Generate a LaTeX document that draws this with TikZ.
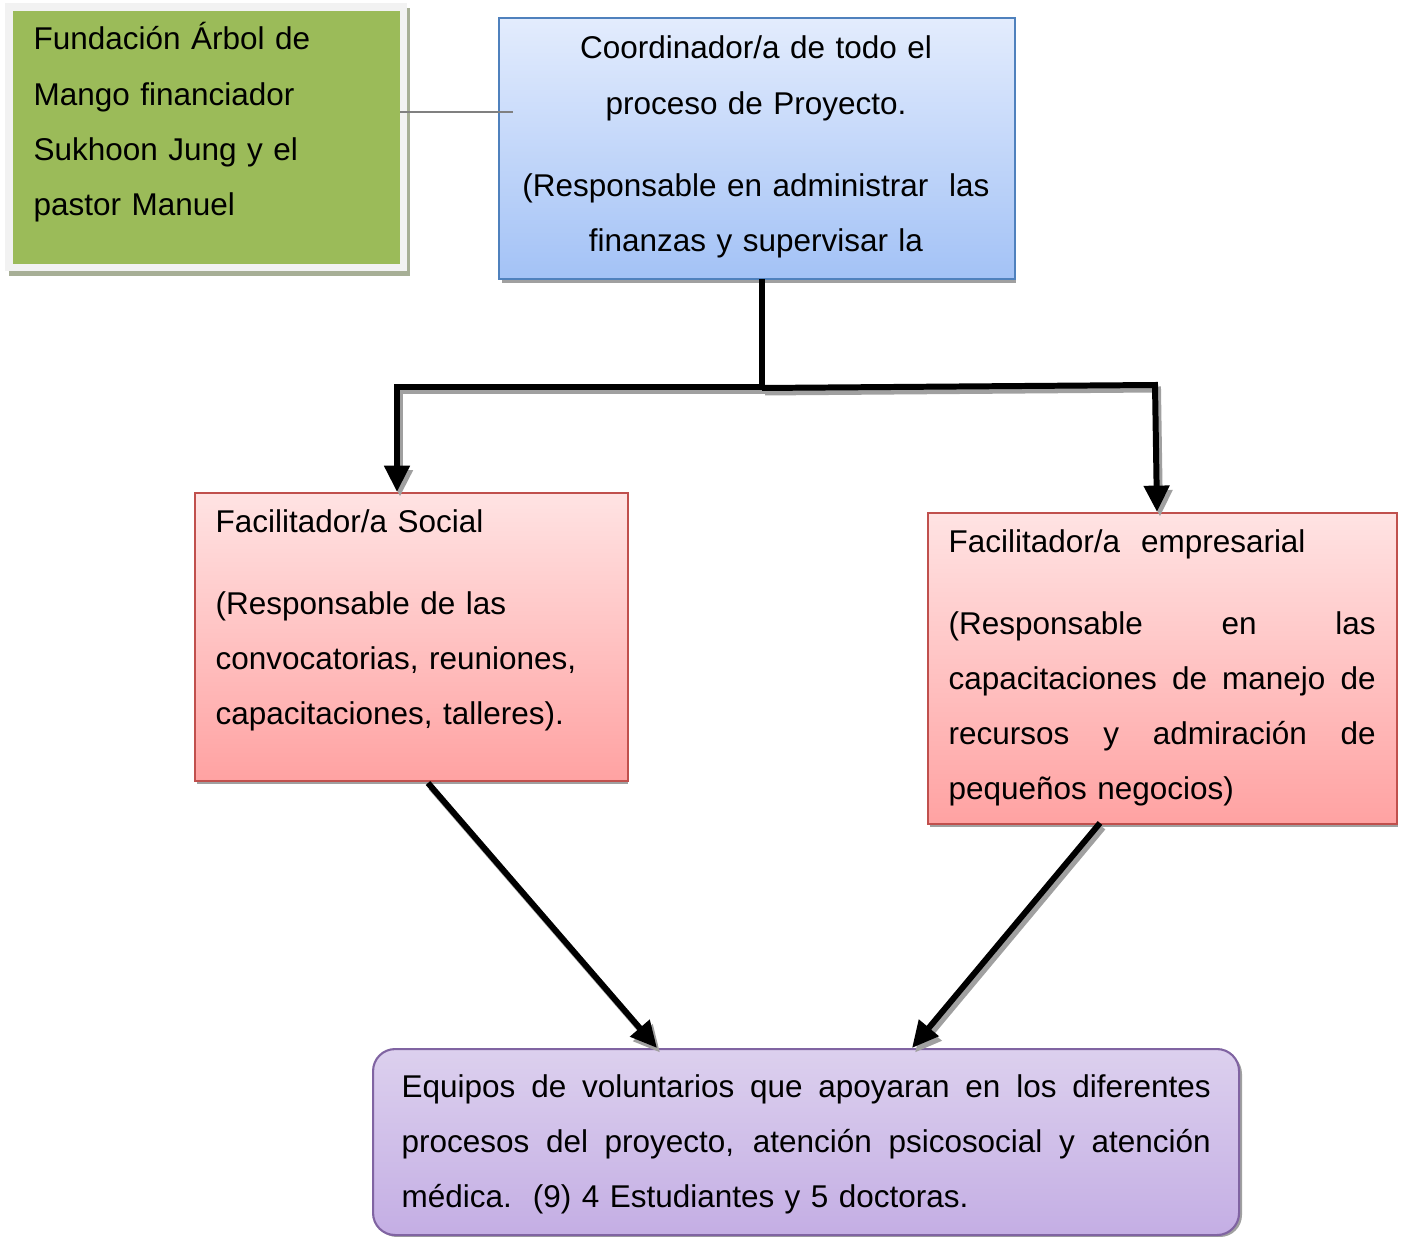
\documentclass[tikz,border=0pt]{standalone}
\usepackage{fontspec}
\setmainfont{Liberation Sans}
\usetikzlibrary{arrows.meta}
\definecolor{gfill}{HTML}{9BBB59}
\definecolor{gframe}{HTML}{F2F2F2}
\definecolor{gshadow}{HTML}{A7AF96}
\definecolor{bline}{HTML}{4F81BD}
\definecolor{btop}{HTML}{E3ECFD}
\definecolor{bbot}{HTML}{A3C2F6}
\definecolor{rline}{HTML}{C0504D}
\definecolor{rtop}{HTML}{FFE3E3}
\definecolor{rbot}{HTML}{FFA2A2}
\definecolor{pline}{HTML}{8064A2}
\definecolor{ptop}{HTML}{DCD0EE}
\definecolor{pbot}{HTML}{C4AEE4}
\definecolor{shad}{HTML}{A0A0A0}
\newcommand\jline[1]{\leavevmode\hbox to\linewidth{\spaceskip=0.278em plus 1fil\relax #1}}
\tikzset{
  txt/.style={font=\fontsize{8.95pt}{15.65pt}\selectfont, inner sep=0pt, anchor=base west, align=left},
  conn/.style={line width=1.7pt, -{Triangle[width=7pt,length=7.5pt]}},
  connshadow/.style={line width=1.7pt, draw=shad, -{Triangle[width=7pt,length=7.5pt]}},
}
\begin{document}
\begin{tikzpicture}[x=0.01cm,y=-0.01cm]
\useasboundingbox (0,0) rectangle (1403,1237);
% ---- green box
\fill[gshadow] (9,8) rectangle (410,276);
\fill[gframe] (5,3) rectangle (407,271);
\node[fill=gfill, minimum width=387*0.01cm, minimum height=253*0.01cm, inner sep=0pt, anchor=north west] (green) at (12,10) {};
\node[txt, text width=360*0.01cm] (greentxt) at (33,50) {Fundación Árbol de\\Mango financiador\\Sukhoon Jung y el\\pastor Manuel};
% ---- blue box
\fill[shad] (502,22) rectangle (1016,283);
\node[draw=bline, line width=0.6pt, top color=btop, bottom color=bbot, minimum width=516*0.01cm, minimum height=261*0.01cm, inner sep=0pt, anchor=north west] (coord) at (498,17) {};
\node[txt, text width=516*0.01cm, align=center, anchor=base] (coordtxt) at (756,59) {Coordinador/a de todo el\\proceso de Proyecto.\\[0.27cm](Responsable en administrar\ \ las\\finanzas y supervisar la};
\coordinate (gconn) at (513,112);
\draw[draw=gray, line width=0.5pt] (green.east |- gconn) -- (gconn);
% ---- social box
\fill[shad] (197,496) rectangle (628,784);
\node[draw=rline, line width=0.6pt, top color=rtop, bottom color=rbot, minimum width=433*0.01cm, minimum height=288*0.01cm, inner sep=0pt, anchor=north west] (social) at (194,492) {};
\node[txt, text width=400*0.01cm] (socialtxt) at (215,533) {Facilitador/a Social\\[0.26cm](Responsable de las\\convocatorias, reuniones,\\capacitaciones, talleres).};
% ---- empresarial box
\fill[shad] (930,516) rectangle (1398,827);
\node[draw=rline, line width=0.6pt, top color=rtop, bottom color=rbot, minimum width=469*0.01cm, minimum height=311*0.01cm, inner sep=0pt, anchor=north west] (empr) at (927,512) {};
\node[txt, text width=427*0.01cm] (emprtxt) at (948,553) {Facilitador/a\ \ empresarial\\[0.26cm]\jline{(Responsable en las}\\\jline{capacitaciones de manejo de}\\\jline{recursos y admiración de}\\pequeños negocios)};
% ---- bottom box
\fill[shad, rounded corners=0.22cm] (375,1052) rectangle (1242,1237);
\node[draw=pline, line width=0.6pt, top color=ptop, bottom color=pbot, rounded corners=0.22cm, minimum width=866*0.01cm, minimum height=186*0.01cm, inner sep=0pt, anchor=north west] (vol) at (372,1048) {};
\node[txt, text width=809*0.01cm] (voltxt) at (401,1097) {\jline{Equipos de voluntarios que apoyaran en los diferentes}\\\jline{procesos del proyecto, atención psicosocial y atención}\\médica.\ \ (9) 4 Estudiantes y 5 doctoras.};
% ---- connectors
\coordinate (cbot) at (762,279);
\coordinate (jl) at (762,387);
\coordinate (jr) at (762,388);
\coordinate (lcorner) at (397,387);
\coordinate (rcorner) at (1155,385);
\coordinate (stop) at (397,492);
\coordinate (etop) at (1157,512);
\coordinate (sbot) at (428,783);
\coordinate (vtl) at (657,1048);
\coordinate (ebot) at (1100,823);
\coordinate (vtr) at (912,1048);
% shadows
\begin{scope}[transform canvas={xshift=0.03cm,yshift=-0.045cm}]
\draw[connshadow] (jl) -- (lcorner) -- (stop);
\draw[connshadow] (jr) -- (rcorner) -- (etop);
\draw[connshadow] (sbot) -- (vtl);
\draw[connshadow] (ebot) -- (vtr);
\end{scope}
\draw[line width=1.7pt] (cbot) -- (jl);
\draw[conn] (jl) -- (lcorner) -- (stop);
\draw[conn] (jr) -- (rcorner) -- (etop);
\draw[conn] (sbot) -- (vtl);
\draw[conn] (ebot) -- (vtr);
\end{tikzpicture}
\end{document}
